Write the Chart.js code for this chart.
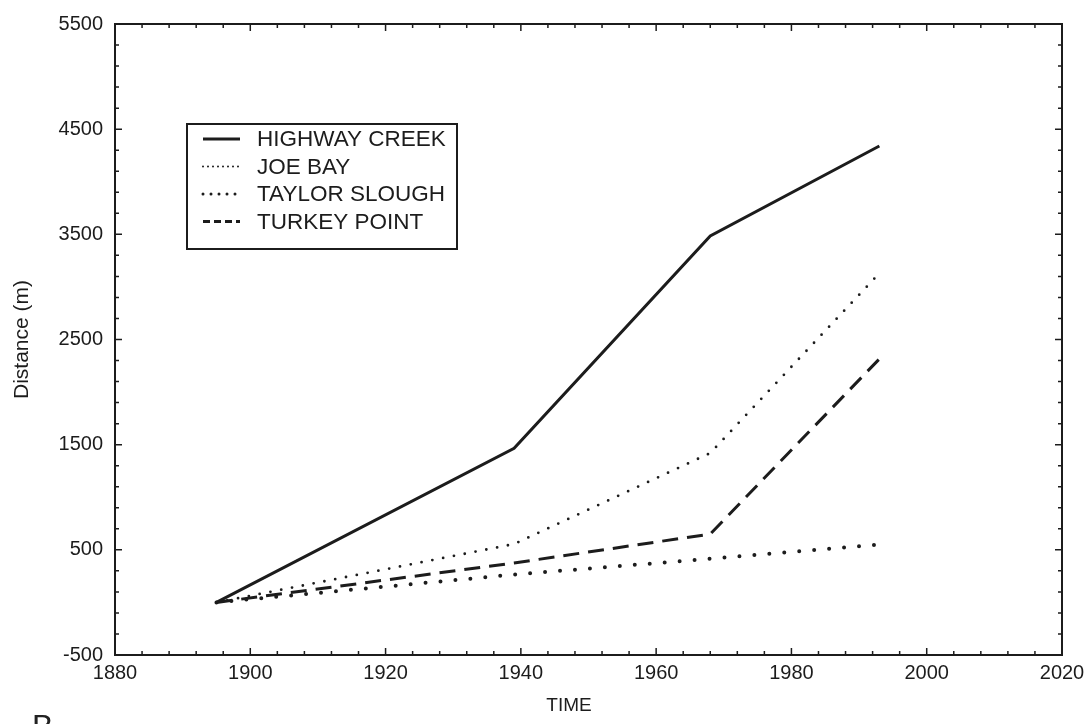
<!DOCTYPE html>
<html>
<head>
<meta charset="utf-8">
<script src="https://cdn.jsdelivr.net/npm/chart.js@4.4.1/dist/chart.umd.min.js"></script>
<style>
  html, body { margin: 0; padding: 0; background: #fff; overflow: hidden; }
  #wrap { position: relative; width: 1092px; height: 724px; }
  #panel { position: absolute; left: 32px; top: 708px; font: 32px "Liberation Sans", Arial, sans-serif; color: #222; }
</style>
</head>
<body>
<div id="wrap">
  <canvas id="chart" width="1092" height="724"></canvas>
  <div id="panel">B</div>
</div>
<script>
// ===== Data =====
const years = [1895, 1939, 1968, 1993];
const highwayCreek = [0, 1465, 3485, 4340];
const joeBay = [0, 555, 1420, 3130];
const taylorSlough = [0, 265, 415, 550];
const turkeyPoint = [0, 375, 650, 2315];

const seriesNames = ["HIGHWAY CREEK", "JOE BAY", "TAYLOR SLOUGH", "TURKEY POINT"];
const xTicks = [1880, 1900, 1920, 1940, 1960, 1980, 2000, 2020];
const yTicks = [-500, 500, 1500, 2500, 3500, 4500, 5500];

const INK = "#1c1c1c";
const FONT = '"Liberation Sans", Arial, sans-serif';

const toPoints = vals => years.map((x, i) => ({ x, y: vals[i] }));

// line styles: solid, fine dots, heavy dots, dashes (legend samples use a tighter pattern)
const STYLES = [
  { borderWidth: 3, borderDash: [], borderCapStyle: "butt", legendDash: [] },
  { borderWidth: 2.8, borderDash: [0, 11], borderCapStyle: "round", legendDash: [0, 5] },
  { borderWidth: 4, borderDash: [0, 15], borderCapStyle: "round", legendDash: [0, 8] },
  { borderWidth: 3, borderDash: [16, 9], borderCapStyle: "butt", legendDash: [7, 4] }
];

const datasets = [highwayCreek, joeBay, taylorSlough, turkeyPoint].map((vals, i) => ({
  label: seriesNames[i],
  data: toPoints(vals),
  borderColor: INK,
  pointRadius: 0,
  tension: 0,
  fill: false,
  ...STYLES[i]
}));

// frame + inner ticks on all four sides
const framePlugin = {
  id: "frame",
  afterDatasetsDraw(chart) {
    const { ctx, chartArea: a, scales } = chart;
    const xs = scales.x, ys = scales.y;
    ctx.save();
    ctx.strokeStyle = INK;
    ctx.lineWidth = 2;
    ctx.strokeRect(a.left, a.top, a.right - a.left, a.bottom - a.top);
    ctx.lineWidth = 1.5;
    ctx.beginPath();
    for (let v = xs.min; v <= xs.max; v += 4) {
      const px = xs.getPixelForValue(v);
      const len = (v - xs.min) % 20 === 0 ? 7 : 4;
      ctx.moveTo(px, a.bottom); ctx.lineTo(px, a.bottom - len);
      ctx.moveTo(px, a.top); ctx.lineTo(px, a.top + len);
    }
    for (let v = ys.min; v <= ys.max; v += 200) {
      const py = ys.getPixelForValue(v);
      const len = (v - ys.min) % 1000 === 0 ? 7 : 4;
      ctx.moveTo(a.left, py); ctx.lineTo(a.left + len, py);
      ctx.moveTo(a.right, py); ctx.lineTo(a.right - len, py);
    }
    ctx.stroke();

    // x title sits a little left of centre in the original
    ctx.font = "19px " + FONT;
    ctx.fillStyle = INK;
    ctx.textAlign = "center";
    ctx.textBaseline = "middle";
    ctx.fillText("TIME", 569, 706);
    ctx.restore();
  }
};

// boxed legend inside the plot, upper left
const boxLegendPlugin = {
  id: "boxLegend",
  afterDraw(chart) {
    const { ctx } = chart;
    const box = { x: 187, y: 124, w: 270, h: 125 };
    ctx.save();
    ctx.fillStyle = "#fff";
    ctx.fillRect(box.x, box.y, box.w, box.h);
    ctx.strokeStyle = INK;
    ctx.lineWidth = 2;
    ctx.strokeRect(box.x, box.y, box.w, box.h);
    ctx.font = "22.5px " + FONT;
    ctx.textBaseline = "middle";
    ctx.fillStyle = INK;
    chart.data.datasets.forEach((ds, i) => {
      const y = box.y + 15 + i * 27.5;
      ctx.beginPath();
      ctx.lineWidth = i === 1 ? 2 : 3;
      ctx.setLineDash(ds.legendDash);
      ctx.lineCap = ds.borderCapStyle;
      ctx.moveTo(203, y);
      ctx.lineTo(240, y);
      ctx.stroke();
      ctx.setLineDash([]);
      ctx.fillText(ds.label, 257, y + 1);
    });
    ctx.restore();
  }
};

new Chart(document.getElementById("chart"), {
  type: "line",
  data: { datasets },
  options: {
    responsive: false,
    animation: false,
    layout: { padding: { top: 20, right: 30, left: 0, bottom: 0 } },
    plugins: { legend: { display: false }, tooltip: { enabled: false } },
    scales: {
      x: {
        type: "linear",
        min: 1880,
        max: 2020,
        afterBuildTicks: s => { s.ticks = xTicks.map(v => ({ value: v })); },
        afterFit: s => { s.height = 69; },
        grid: { display: false, drawTicks: false },
        border: { display: false },
        ticks: { color: INK, font: { family: FONT, size: 20 }, padding: 6, maxRotation: 0, callback: v => String(v) }
      },
      y: {
        min: -500,
        max: 5500,
        afterBuildTicks: s => { s.ticks = yTicks.map(v => ({ value: v })); },
        afterFit: s => { s.width = 115; },
        grid: { display: false, drawTicks: false },
        border: { display: false },
        ticks: { color: INK, font: { family: FONT, size: 20 }, padding: 12, callback: v => String(v) },
        title: { display: true, text: "Distance (m)", color: INK, font: { family: FONT, size: 21 }, padding: { top: 10, bottom: 0 } }
      }
    }
  },
  plugins: [framePlugin, boxLegendPlugin]
});
</script>
</body>
</html>
